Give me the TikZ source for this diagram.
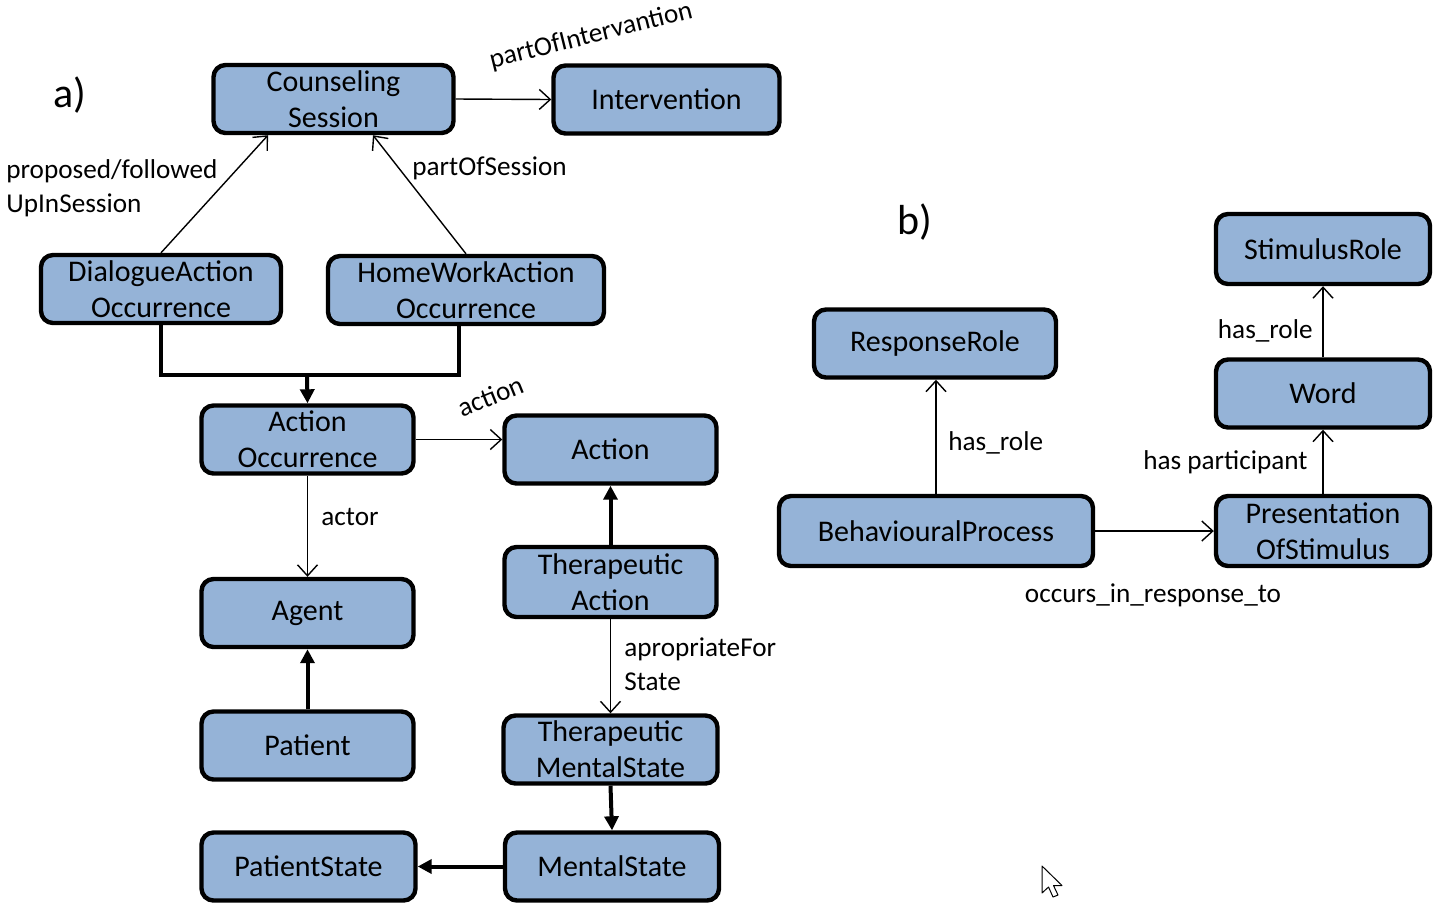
\documentclass[tikz,border=0pt]{standalone}
\usepackage{fontspec}
\setmainfont{Carlito}
\usetikzlibrary{arrows.meta}
\definecolor{boxblue}{RGB}{149,179,215}
\newcommand{\nodefnt}{\fontsize{15}{18}\selectfont}
\newcommand{\lblfnt}{\fontsize{13.6}{17}\selectfont}
\tikzset{
  box/.style={draw, line width=2.2pt, rounded corners=6pt, fill=boxblue,
    align=center, font=\nodefnt, inner sep=0pt},
  lbl/.style={font=\lblfnt, inner sep=1pt},
  thinarr/.style={line width=0.7pt, -{Straight Barb[length=5.5pt,width=10pt,line width=0.7pt]}},
  thickarr/.style={line width=2pt, -{Triangle[length=7pt,width=7pt]}},
  thickline/.style={line width=2pt}
}
\begin{document}
\begin{tikzpicture}[x=0.5pt,y=-0.5pt]
\useasboundingbox (0,0) rectangle (1441,912);
% a) nodes
\node[box, minimum width=120pt, minimum height=34pt] (cs) at (333.5,99) {Counseling\\Session};
\node[box, minimum width=113pt, minimum height=34pt] (int) at (666.5,99.5) {Intervention};
\node[box, minimum width=120pt, minimum height=34pt] (da) at (161,289) {DialogueAction\\Occurrence};
\node[box, minimum width=138pt, minimum height=34pt] (hw) at (466,290) {HomeWorkAction\\Occurrence};
\node[box, minimum width=106pt, minimum height=34pt] (ao) at (307.5,439.5) {Action\\Occurrence};
\node[box, minimum width=106pt, minimum height=34pt] (act) at (610.5,449.5) {Action};
\node[box, minimum width=106pt, minimum height=34pt] (ag) at (307.5,613) {Agent};
\node[box, minimum width=106pt, minimum height=34pt] (pat) at (307.5,745.5) {Patient};
\node[box, minimum width=106pt, minimum height=35pt] (ta) at (610.5,582) {Therapeutic\\Action};
\node[box, minimum width=107pt, minimum height=34pt] (tms) at (610.5,749.5) {Therapeutic\\MentalState};
\node[box, minimum width=107pt, minimum height=34pt] (ps) at (308.5,866.5) {PatientState};
\node[box, minimum width=107pt, minimum height=34pt] (ms) at (612,866.5) {MentalState};
% b) nodes
\node[box, minimum width=121pt, minimum height=34pt] (rr) at (935,343.5) {ResponseRole};
\node[box, minimum width=107pt, minimum height=35pt] (sr) at (1323,249) {StimulusRole};
\node[box, minimum width=107pt, minimum height=34pt] (wd) at (1323,393.5) {Word};
\node[box, minimum width=157pt, minimum height=35pt] (bp) at (936,531) {BehaviouralProcess};
\node[box, minimum width=107pt, minimum height=35pt] (pos) at (1323,531) {Presentation\\OfStimulus};
% panel labels
\node[font=\fontsize{21}{24}\selectfont] (la) at (70,95) {a)};
\node[font=\fontsize{21}{24}\selectfont] (lb) at (915,222) {b)};
% a) edges
\draw[thinarr] (cs.east) -- (int.west);
\draw[thinarr] (da.north) -- ([xshift=-32.75pt]cs.south);
\draw[thinarr] (hw.north) -- ([xshift=19.75pt]cs.south);
\coordinate (join) at (307,375);
\draw[thickline] (da.south) |- (join) -| ([xshift=-3.5pt]hw.south);
\draw[thickarr] (join) -- (ao.north);
\draw[thinarr] (ao.east) -- (ao.east -| act.west);
\draw[thinarr] (ao.south) -- (ag.north);
\draw[thickarr] (pat.north) -- (ag.south);
\draw[thickarr] (ta.north) -- (act.south);
\draw[thinarr] (ta.south) -- (tms.north);
\draw[thickarr] (tms.south) -- (ms.north);
\draw[thickarr] (ms.west) -- (ps.east);
% b) edges
\draw[thinarr] (bp.north) -- (bp.north |- rr.south);
\draw[thinarr] (bp.east) -- (pos.west);
\draw[thinarr] (pos.north) -- (wd.south);
\draw[thinarr] (wd.north) -- (sr.south);
% edge labels
\node[lbl, rotate=14] (l1) at (591,36) {partOfIntervantion};
\node[lbl, align=left, anchor=west] (l2) at (4,188) {proposed/followed\\UpInSession};
\node[lbl, anchor=west] (l3) at (410,168) {partOfSession};
\node[lbl, rotate=22] (l4) at (491,396) {action};
\node[lbl, anchor=west] (l5) at (319,517) {actor};
\node[lbl, align=left, anchor=west] (l6) at (622,664) {apropriateFor\\State};
\node[lbl, anchor=west] (l7) at (946,443) {has\_role};
\node[lbl] (l8) at (1153,595) {occurs\_in\_response\_to};
\node[lbl, anchor=east] (l9) at (1310,462) {has participant};
\node[lbl, anchor=east] (l10) at (1315,331) {has\_role};
% mouse cursor
\draw[line width=0.5pt, fill=white, line join=round]
  (1042,866) -- (1042,893) -- (1048.5,887) -- (1053,897) -- (1058,895) -- (1053.5,885.5) -- (1062,885.5) -- cycle;
\end{tikzpicture}
\end{document}
